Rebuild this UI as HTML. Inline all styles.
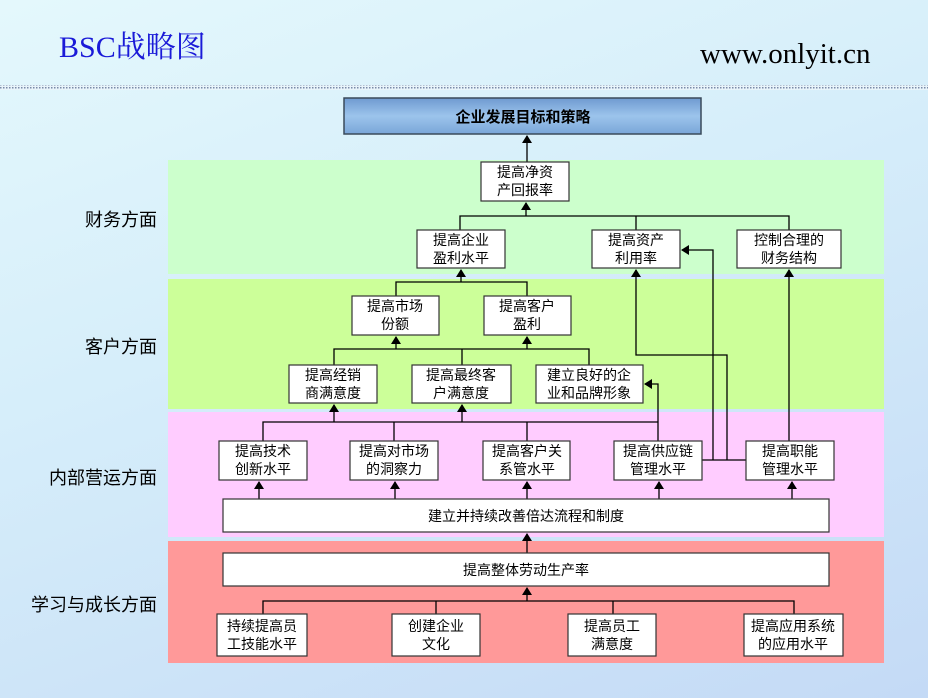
<!DOCTYPE html>
<html><head><meta charset="utf-8"><style>
html,body{margin:0;padding:0}
body{width:928px;height:698px;overflow:hidden;background:linear-gradient(160deg,#e4f8fc 0%,#d6eefa 40%,#c4daf6 100%);position:relative;font-family:"Liberation Sans","Noto Sans CJK SC",sans-serif}
svg{position:absolute;left:0;top:0}
</style></head><body>
<svg width="928" height="698" viewBox="0 0 928 698">
<defs>
<pattern id="dots" width="3" height="3" patternUnits="userSpaceOnUse"><rect width="3" height="3" fill="#e8f4fa"/><rect width="1.5" height="1.5" fill="#7a8aa8"/></pattern>
<linearGradient id="tb" x1="0" y1="0" x2="0" y2="1"><stop offset="0" stop-color="#6f9ad0"/><stop offset="0.5" stop-color="#9cc4ec"/><stop offset="1" stop-color="#7aa6d8"/></linearGradient>
<marker id="a" markerWidth="8" markerHeight="10" refX="7" refY="5" orient="auto" markerUnits="userSpaceOnUse"><path d="M0,0 L8,5 L0,10 z" fill="#000"/></marker>
</defs>
<text x="59" y="57" font-family="Liberation Serif,Noto Serif CJK SC,serif" font-size="30" fill="#1a1ad8">BSC战略图</text>
<text x="700" y="63" font-family="Liberation Serif,serif" font-size="29" fill="#000">www.onlyit.cn</text>
<rect x="0" y="85" width="928" height="5" fill="url(#dots)"/>
<rect x="168" y="160" width="716" height="114" fill="#ccffcc"/>
<rect x="168" y="279" width="716" height="130" fill="#ccff99"/>
<rect x="168" y="412" width="716" height="125" fill="#ffccff"/>
<rect x="168" y="541" width="716" height="122" fill="#ff9999"/>
<g font-size="18" fill="#000" text-anchor="end">
<text x="157" y="226">财务方面</text>
<text x="157" y="353">客户方面</text>
<text x="157" y="484">内部营运方面</text>
<text x="157" y="611">学习与成长方面</text>
</g>
<rect x="344" y="98" width="357" height="36" fill="url(#tb)" stroke="#3a4a5a" stroke-width="1.5"/>
<text x="523" y="122" font-size="15" font-weight="bold" text-anchor="middle">企业发展目标和策略</text>
<g stroke="#000" stroke-width="1.3" fill="none">
<line x1="527" y1="162" x2="527" y2="136" marker-end="url(#a)"/>
<polyline points="460,230 460,216 789,216 789,230"/><line x1="636" y1="216" x2="636" y2="230"/>
<line x1="526" y1="216" x2="526" y2="203" marker-end="url(#a)"/>
<polyline points="396,296 396,282 527,282 527,296"/>
<line x1="461" y1="282" x2="461" y2="270" marker-end="url(#a)"/>
<polyline points="334,365 334,349 589,349 589,365"/><line x1="462" y1="349" x2="462" y2="365"/>
<line x1="396" y1="349" x2="396" y2="337" marker-end="url(#a)"/>
<line x1="527" y1="349" x2="527" y2="337" marker-end="url(#a)"/>
<polyline points="727,460 727,355 636,355 636,270" marker-end="url(#a)"/>
<polyline points="713,460 713,250 682,250" marker-end="url(#a)"/>
<line x1="789" y1="441" x2="789" y2="270" marker-end="url(#a)"/>
<polyline points="658,441 658,384 645,384" marker-end="url(#a)"/>
<line x1="702" y1="460" x2="746" y2="460"/>
<polyline points="263,441 263,422 658,422"/>
<line x1="394" y1="422" x2="394" y2="441"/><line x1="527" y1="422" x2="527" y2="441"/>
<line x1="334" y1="422" x2="334" y2="405" marker-end="url(#a)"/>
<line x1="462" y1="422" x2="462" y2="405" marker-end="url(#a)"/>
<line x1="259" y1="499" x2="259" y2="482" marker-end="url(#a)"/>
<line x1="395" y1="499" x2="395" y2="482" marker-end="url(#a)"/>
<line x1="527" y1="499" x2="527" y2="482" marker-end="url(#a)"/>
<line x1="659" y1="499" x2="659" y2="482" marker-end="url(#a)"/>
<line x1="792" y1="499" x2="792" y2="482" marker-end="url(#a)"/>
<line x1="527" y1="553" x2="527" y2="534" marker-end="url(#a)"/>
<polyline points="263,614 263,601 794,601 794,614"/>
<line x1="436" y1="601" x2="436" y2="614"/><line x1="613" y1="601" x2="613" y2="614"/>
<line x1="527" y1="601" x2="527" y2="588" marker-end="url(#a)"/>
</g>
<g fill="#fff" stroke="#333" stroke-width="1.2">
<rect x="481" y="162" width="88" height="39"/>
<rect x="417" y="230" width="88" height="38"/>
<rect x="592" y="230" width="88" height="38"/>
<rect x="737" y="230" width="104" height="38"/>
<rect x="352" y="296" width="87" height="39"/>
<rect x="484" y="296" width="87" height="39"/>
<rect x="289" y="365" width="88" height="38"/>
<rect x="412" y="365" width="99" height="38"/>
<rect x="536" y="365" width="107" height="38"/>
<rect x="219" y="441" width="88" height="39"/>
<rect x="350" y="441" width="88" height="39"/>
<rect x="483" y="441" width="87" height="39"/>
<rect x="614" y="441" width="88" height="39"/>
<rect x="746" y="441" width="88" height="39"/>
<rect x="223" y="499" width="606" height="33"/>
<rect x="223" y="553" width="606" height="33"/>
<rect x="217" y="614" width="90" height="42"/>
<rect x="392" y="614" width="88" height="42"/>
<rect x="568" y="614" width="88" height="42"/>
<rect x="744" y="614" width="99" height="42"/>
</g>
<g font-size="14" fill="#000" text-anchor="middle">
<text x="525" y="177">提高净资</text><text x="525" y="195">产回报率</text>
<text x="461" y="245">提高企业</text><text x="461" y="263">盈利水平</text>
<text x="636" y="245">提高资产</text><text x="636" y="263">利用率</text>
<text x="789" y="245">控制合理的</text><text x="789" y="263">财务结构</text>
<text x="395" y="311">提高市场</text><text x="395" y="329">份额</text>
<text x="527" y="311">提高客户</text><text x="527" y="329">盈利</text>
<text x="333" y="380">提高经销</text><text x="333" y="398">商满意度</text>
<text x="461" y="380">提高最终客</text><text x="461" y="398">户满意度</text>
<text x="589" y="380">建立良好的企</text><text x="589" y="398">业和品牌形象</text>
<text x="263" y="456">提高技术</text><text x="263" y="474">创新水平</text>
<text x="394" y="456">提高对市场</text><text x="394" y="474">的洞察力</text>
<text x="527" y="456">提高客户关</text><text x="527" y="474">系管水平</text>
<text x="658" y="456">提高供应链</text><text x="658" y="474">管理水平</text>
<text x="790" y="456">提高职能</text><text x="790" y="474">管理水平</text>
<text x="526" y="521">建立并持续改善倍达流程和制度</text>
<text x="526" y="575">提高整体劳动生产率</text>
<text x="262" y="631">持续提高员</text><text x="262" y="649">工技能水平</text>
<text x="436" y="631">创建企业</text><text x="436" y="649">文化</text>
<text x="612" y="631">提高员工</text><text x="612" y="649">满意度</text>
<text x="793" y="631">提高应用系统</text><text x="793" y="649">的应用水平</text>
</g>
</svg>
</body></html>
